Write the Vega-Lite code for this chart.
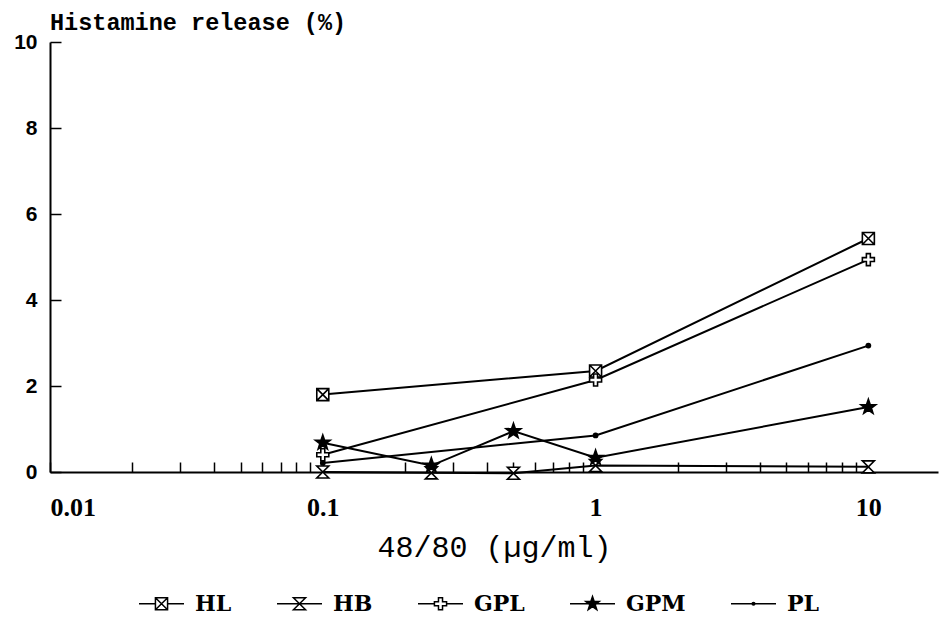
{
  "$schema": "https://vega.github.io/schema/vega-lite/v6.json",
  "width": 888,
  "height": 430,
  "autosize": {"type": "none"},
  "padding": {"left": 50, "top": 42, "right": 2, "bottom": 153},
  "background": "white",
  "title": {
    "text": "Histamine release (%)",
    "anchor": "start",
    "frame": "group",
    "offset": -3,
    "font": "Liberation Mono",
    "fontSize": 23.5,
    "fontWeight": "bold",
    "color": "black"
  },
  "data": {
    "values": [
      {"series": "HL", "dose": 0.1, "release": 1.8},
      {"series": "HL", "dose": 1, "release": 2.35},
      {"series": "HL", "dose": 10, "release": 5.43},
      {"series": "HB", "dose": 0.1, "release": 0.0},
      {"series": "HB", "dose": 0.25, "release": -0.02},
      {"series": "HB", "dose": 0.5, "release": -0.03},
      {"series": "HB", "dose": 1, "release": 0.15},
      {"series": "HB", "dose": 10, "release": 0.12},
      {"series": "GPL", "dose": 0.1, "release": 0.4},
      {"series": "GPL", "dose": 1, "release": 2.14},
      {"series": "GPL", "dose": 10, "release": 4.94},
      {"series": "GPM", "dose": 0.1, "release": 0.68},
      {"series": "GPM", "dose": 0.25, "release": 0.15},
      {"series": "GPM", "dose": 0.5, "release": 0.95},
      {"series": "GPM", "dose": 1, "release": 0.33},
      {"series": "GPM", "dose": 10, "release": 1.51},
      {"series": "PL", "dose": 0.1, "release": 0.21},
      {"series": "PL", "dose": 1, "release": 0.85},
      {"series": "PL", "dose": 10, "release": 2.94}
    ]
  },
  "encoding": {
    "x": {
      "field": "dose",
      "type": "quantitative",
      "scale": {"type": "log", "domain": [0.01, 18], "nice": false},
      "axis": {
        "title": "48/80 (µg/ml)",
        "titleFont": "Liberation Mono",
        "titleFontSize": 30,
        "titleFontWeight": "normal",
        "titleColor": "black",
        "titlePadding": 12,
        "values": [0.01, 0.02, 0.03, 0.04, 0.05, 0.06, 0.07, 0.08, 0.09, 0.1, 0.2, 0.3, 0.4, 0.5, 0.6, 0.7, 0.8, 0.9, 1, 2, 3, 4, 5, 6, 7, 8, 9, 10],
        "labelExpr": "datum.value == 0.01 ? '0.01' : datum.value == 0.1 ? '0.1' : datum.value == 1 ? '1' : datum.value == 10 ? '10' : ''",
        "labelOverlap": false,
        "labelFont": "Liberation Serif",
        "labelFontSize": 26,
        "labelFontWeight": "bold",
        "labelColor": "black",
        "labelPadding": 32,
        "tickSize": -10,
        "tickColor": "black",
        "tickWidth": 1.5,
        "domainColor": "black",
        "domainWidth": 2,
        "grid": false
      }
    },
    "y": {
      "field": "release",
      "type": "quantitative",
      "scale": {"domain": [0, 10], "nice": false, "zero": false},
      "axis": {
        "title": null,
        "values": [0, 2, 4, 6, 8, 10],
        "labelFont": "Liberation Sans",
        "labelFontSize": 21,
        "labelFontWeight": "bold",
        "labelColor": "black",
        "labelPadding": 24,
        "tickSize": -11,
        "tickColor": "black",
        "tickWidth": 1.5,
        "domainColor": "black",
        "domainWidth": 2,
        "grid": false
      }
    }
  },
  "layer": [
    {
      "mark": {"type": "point", "filled": true, "fill": "white", "size": 0, "stroke": "black", "strokeWidth": 1.5, "clip": false},
      "encoding": {
        "shape": {
          "field": "series",
          "type": "nominal",
          "sort": ["HL", "HB", "GPL", "GPM", "PL"],
          "scale": {
            "domain": ["HL", "HB", "GPL", "GPM", "PL"],
            "range": [
              "M-1,0H-0.27M0.27,0H1M-0.27,-0.27H0.27V0.27H-0.27ZM-0.27,-0.27L0.27,0.27M0.27,-0.27L-0.27,0.27",
              "M-1,0H1M-0.27,-0.27H0.27L-0.27,0.27H0.27Z",
              "M-1,0H-0.27M0.27,0H1M-0.09,-0.27H0.09V-0.09H0.27V0.09H0.09V0.27H-0.09V0.09H-0.27V-0.09H-0.09Z",
              "M-1,0H1M0,-0.32L0.075,-0.105L0.3,-0.1L0.12,0.04L0.19,0.26L0,0.13L-0.19,0.26L-0.12,0.04L-0.3,-0.1L-0.075,-0.105ZM0,-0.2L0.047,-0.066L0.19,-0.063L0.075,0.025L0.12,0.16L0,0.08L-0.12,0.16L-0.075,0.025L-0.19,-0.063L-0.047,-0.066ZM0,-0.1L0.024,-0.033L0.095,-0.03L0.038,0.012L0.06,0.08L0,0.04L-0.06,0.08L-0.038,0.012L-0.095,-0.03L-0.024,-0.033Z",
              "M-1,0H1M-0.06,0A0.06,0.06,0,1,0,0.06,0A0.06,0.06,0,1,0,-0.06,0Z"
            ]
          },
          "legend": {
            "title": null,
            "orient": "none",
            "direction": "horizontal",
            "legendX": 88,
            "legendY": 538,
            "symbolSize": 2025,
            "symbolOpacity": 1,
            "symbolStrokeWidth": 1.5,
            "labelFont": "DejaVu Serif",
            "labelFontSize": 22,
            "labelFontWeight": "bold",
            "labelColor": "black",
            "labelOffset": 10,
            "columnPadding": 42
          }
        }
      }
    },
    {
      "mark": {"type": "line", "color": "black", "strokeWidth": 2, "clip": false},
      "encoding": {"detail": {"field": "series"}}
    },
    {
      "mark": {"type": "point", "filled": true, "size": 144, "stroke": "black", "strokeWidth": 1.6, "opacity": 1, "clip": false},
      "encoding": {
        "fill": {
          "condition": {"test": "datum.series === 'GPM' || datum.series === 'PL'", "value": "black"},
          "value": "white"
        },
        "shape": {
          "field": "series",
          "type": "nominal",
          "sort": ["HL", "HB", "GPL", "GPM", "PL"],
          "scale": {
            "domain": ["HL", "HB", "GPL", "GPM", "PL"],
            "range": [
              "M-1,-1H1V1H-1ZM-1,-1L1,1M1,-1L-1,1",
              "M-1,-1H1L-1,1H1Z",
              "M-0.33,-1H0.33V-0.33H1V0.33H0.33V1H-0.33V0.33H-1V-0.33H-0.33Z",
              "M0,-1.3L0.3,-0.42L1.24,-0.4L0.5,0.16L0.77,1.05L0,0.52L-0.77,1.05L-0.5,0.16L-1.24,-0.4L-0.3,-0.42Z",
              "M-0.35,0A0.35,0.35,0,1,0,0.35,0A0.35,0.35,0,1,0,-0.35,0Z"
            ]
          },
          "legend": null
        }
      }
    }
  ],
  "resolve": {"scale": {"shape": "independent"}, "legend": {"shape": "independent"}},
  "config": {
    "view": {"stroke": null}
  }
}
